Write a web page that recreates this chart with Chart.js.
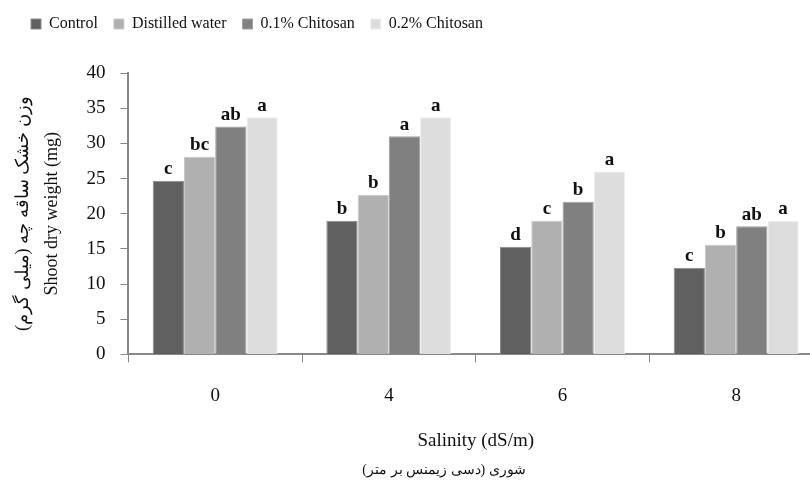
<!DOCTYPE html>
<html>
<head>
<meta charset="utf-8">
<script src="https://cdn.jsdelivr.net/npm/chart.js@4.4.0/dist/chart.umd.min.js"></script>
<style>
  html, body { margin: 0; padding: 0; background: #fff; overflow: hidden; }
  #wrap { position: absolute; left: 0; top: 0; width: 840px; height: 489px; }
</style>
</head>
<body>
<div id="wrap"><canvas id="chart" width="840" height="489"></canvas></div>
<script>
const salinity = ['0', '4', '6', '8'];

const control        = [24.7, 19.0, 15.3, 12.3];
const distilledWater = [28.1, 22.7, 19.0, 15.6];
const chitosan01     = [32.4, 31.0, 21.7, 18.2];
const chitosan02     = [33.7, 33.7, 26.0, 19.0];

const lettersControl   = ['c', 'b', 'd', 'c'];
const lettersDistilled = ['bc', 'b', 'c', 'b'];
const letters01        = ['ab', 'a', 'b', 'ab'];
const letters02        = ['a', 'a', 'a', 'a'];

const serif = "'Liberation Serif', 'Times New Roman', serif";

// extra room under the legend, and nudge it right a little
const legendGap = {
  id: 'legendGap',
  beforeInit(chart) {
    const fit = chart.legend.fit;
    chart.legend.fit = function () {
      fit.call(this);
      this.height += 31;
    };
  },
  afterLayout(chart) {
    chart.legend.left += 7;
    chart.legend.right += 7;
  }
};

// letters above bars + Persian axis caption
const annotate = {
  id: 'annotate',
  afterDatasetsDraw(chart) {
    const ctx = chart.ctx;
    ctx.save();
    ctx.fillStyle = '#111';
    ctx.font = '600 19px ' + serif;
    ctx.textAlign = 'center';
    ctx.textBaseline = 'bottom';
    chart.data.datasets.forEach((ds, i) => {
      chart.getDatasetMeta(i).data.forEach((bar, j) => {
        ctx.fillText(ds.letters[j], bar.x, bar.y - 2);
      });
    });
    ctx.font = '14px ' + serif;
    ctx.textBaseline = 'middle';
    ctx.fillText('شوری (دسی زیمنس بر متر)', 444, 470);
    ctx.restore();
  }
};

new Chart(document.getElementById('chart'), {
  type: 'bar',
  data: {
    labels: salinity,
    datasets: [
      { label: 'Control', data: control, letters: lettersControl,
        backgroundColor: '#606060', borderColor: '#8a8a8a', borderWidth: 1 },
      { label: 'Distilled water', data: distilledWater, letters: lettersDistilled,
        backgroundColor: '#b0b0b0', borderColor: '#c8c8c8', borderWidth: 1 },
      { label: '0.1% Chitosan', data: chitosan01, letters: letters01,
        backgroundColor: '#808080', borderColor: '#a0a0a0', borderWidth: 1 },
      { label: '0.2% Chitosan', data: chitosan02, letters: letters02,
        backgroundColor: '#dddddd', borderColor: '#eeeeee', borderWidth: 1 }
    ]
  },
  options: {
    responsive: false,
    animation: false,
    categoryPercentage: 0.72,
    barPercentage: 1.0,
    layout: { padding: { left: 8, right: 17, top: 0, bottom: 37 } },
    plugins: {
      legend: {
        position: 'top',
        align: 'start',
        labels: {
          boxWidth: 10, boxHeight: 10, padding: 16,
          color: '#111', font: { family: serif, size: 16 }
        }
      },
      tooltip: { enabled: false }
    },
    scales: {
      x: {
        grid: { display: true, drawOnChartArea: false, offset: true, tickLength: 8, color: '#888' },
        border: { color: '#888', width: 2 },
        ticks: { color: '#111', padding: 22, font: { family: serif, size: 19 } },
        title: { display: true, text: 'Salinity (dS/m)', color: '#111',
                 padding: { top: 0, bottom: 0 }, font: { family: serif, size: 19 } }
      },
      y: {
        min: 0, max: 40,
        ticks: { stepSize: 5, color: '#111', padding: 15, font: { family: serif, size: 19 } },
        grid: { display: true, drawOnChartArea: false, tickLength: 8, color: '#888' },
        border: { color: '#888', width: 2 },
        title: { display: true, text: ['وزن خشک ساقه چه (میلی گرم)', 'Shoot dry weight (mg)'],
                 color: '#111', padding: { top: 0, bottom: 4 },
                 font: { family: serif, size: 18, lineHeight: 1.65 } }
      }
    }
  },
  plugins: [legendGap, annotate]
});
</script>
</body>
</html>
